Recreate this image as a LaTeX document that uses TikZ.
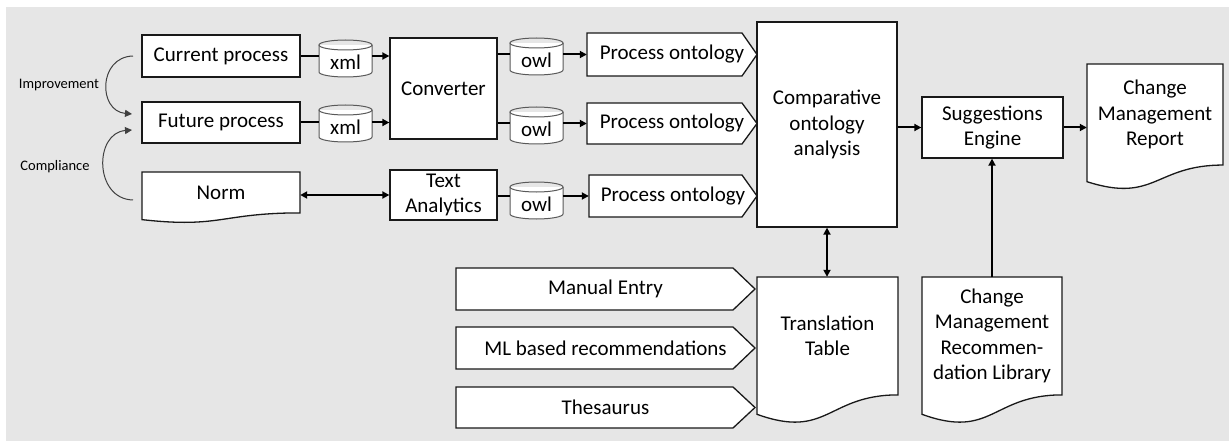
\documentclass[tikz,border=0pt]{standalone}
\usepackage{fontspec}
\setmainfont{Carlito}
\usetikzlibrary{arrows.meta}
\definecolor{bggray}{RGB}{230,230,230}
\tikzset{
 box/.style={draw=black!90, line width=1.3pt, fill=white, align=center, inner sep=0pt, font=\fontsize{21}{25.5}\selectfont},
 lbl/.style={inner sep=0pt, align=center, font=\fontsize{21}{25.5}\selectfont},
 outl/.style={draw=black!90, line width=1.3pt, fill=white},
 cylo/.style={draw=black!65, line width=1pt},
 conn/.style={line width=2pt, draw=black},
 arr/.style={conn, -{Triangle[length=7pt,width=7pt]}},
 darr/.style={conn, {Triangle[length=7pt,width=7pt]}-{Triangle[length=7pt,width=7pt]}},
 thinarr/.style={line width=1pt, draw=black!75, -{Triangle[length=7pt,width=7pt]}},
 small/.style={font=\fontsize{14.5}{17}\selectfont, inner sep=0pt},
}
\newcommand{\docshape}[6]{%
 \draw[outl] (#2,#3) -- ({#2+#4},#3) -- ({#2+#4},{#3+0.802*#5}) .. controls ({#2+0.5*#4},{#3+0.802*#5}) and ({#2+0.5*#4},{#3+1.1075*#5}) .. (#2,{#3+0.934*#5}) -- cycle;
 \node[lbl, minimum width=#4pt, minimum height={0.802*#5pt}] (#1) at ({#2+0.5*#4},{#3+0.401*#5}) {#6};
}
\newcommand{\pentshape}[7]{%
 \draw[outl] (#2,#3) -- (#4,#3) -- (#5,{(#3+#6)/2}) -- (#4,#6) -- (#2,#6) -- cycle;
 \node[lbl, minimum width={(#5-#2)*1pt}, minimum height={(#6-#3)*1pt}] (#1) at ({(#2+#5)/2},{(#3+#6)/2}) {#7};
}
\newcommand{\cylshape}[4]{%
 \fill[white] ({#2-26.5},{#3-13.5}) rectangle ({#2+26.5},{#3+13.5});
 \fill[white] (#2,{#3+13.5}) ellipse [x radius=26.5, y radius=5];
 \draw[cylo] ({#2-26.5},{#3-13.5}) -- ({#2-26.5},{#3+13.5}) arc[start angle=180, end angle=0, x radius=26.5, y radius=5] -- ({#2+26.5},{#3-13.5});
 \draw[cylo] (#2,{#3-13.5}) ellipse [x radius=26.5, y radius=5];
 \node[lbl, minimum width=53pt, minimum height=37pt] (#1) at (#2,{#3+4}) {#4};
}
\begin{document}
\begin{tikzpicture}[x=1pt,y=-1pt]
\useasboundingbox (0,0) rectangle (1229,441);
\fill[bggray] (6,7) rectangle (1229,441);

% boxes
\node[box, minimum width=158pt, minimum height=42pt] (cp) at (221,56) {Current process};
\node[box, minimum width=158pt, minimum height=41pt] (fp) at (221,122.5) {Future process};
\docshape{norm}{142}{172}{158}{51}{Norm}
\node[box, minimum width=107pt, minimum height=101pt] (conv) at (443.5,88.5) {Converter};
\node[box, minimum width=107pt, minimum height=50pt] (ta) at (443.5,195) {Text\\Analytics};

\cylshape{x1}{345.5}{58.5}{xml}
\cylshape{x2}{345.5}{123.5}{xml}
\cylshape{o1}{536.5}{56.5}{owl}
\cylshape{o2}{536.5}{125.5}{owl}
\cylshape{o3}{536.5}{200.5}{owl}

\pentshape{po1}{587}{33}{742}{757}{76}{Process ontology}
\pentshape{po2}{587}{103}{742}{757}{144}{Process ontology}
\pentshape{po3}{589}{175}{742}{757}{217}{Process ontology}

\pentshape{me}{456}{268}{733}{755}{310}{Manual Entry}
\pentshape{ml}{456}{327}{733}{755}{369}{ML based recommendations}
\pentshape{th}{456}{387}{733}{755}{428}{Thesaurus}

\node[box, minimum width=140pt, minimum height=205pt] (comp) at (827,124.5) {Comparative\\ontology\\analysis};
\node[box, minimum width=141pt, minimum height=61pt] (sug) at (992.5,127.5) {Suggestions\\Engine};
\docshape{rep}{1087}{64}{136}{126}{Change\\Management\\Report}
\docshape{tt}{757}{277}{141}{147}{Translation\\Table}
\docshape{lib}{922}{277}{140}{147}{Change\\Management\\Recommen-\\dation Library}

% connectors
\draw[conn] (cp.east) -- (cp.east -| x1.west);
\draw[arr] (cp.east -| x1.east) -- (cp.east -| conv.west);
\draw[conn] (fp.east) -- (fp.east -| x2.west);
\draw[arr] (fp.east -| x2.east) -- (fp.east -| conv.west);
\draw[conn] (po1.west -| conv.east) -- (po1.west -| o1.west);
\draw[arr] (po1.west -| o1.east) -- (po1.west);
\draw[conn] (po2.west -| conv.east) -- (po2.west -| o2.west);
\draw[arr] (po2.west -| o2.east) -- (po2.west);
\draw[conn] (po3.west -| ta.east) -- (po3.west -| o3.west);
\draw[arr] (po3.west -| o3.east) -- (po3.west);
\draw[darr] (ta.west -| norm.east) -- (ta.west);
\draw[arr] (sug.west -| comp.east) -- (sug.west);
\draw[arr] (sug.east) -- (sug.east -| rep.west);
\draw[darr] (comp.south) -- (comp.south |- tt.north);
\draw[arr] (lib.north) -- (lib.north |- sug.south);

% arcs
\coordinate (i1) at (133,56);
\coordinate (i2) at (132,114);
\coordinate (c1) at (133,200);
\coordinate (c2) at (132,130);
\draw[thinarr] (i1) .. controls (98,57) and (98,111) .. (i2);
\draw[thinarr] (c1) .. controls (94,199) and (94,133) .. (c2);
\node[small] (limp) at (59,85) {Improvement};
\node[small] (lcomp) at (55,167) {Compliance};
\end{tikzpicture}
\end{document}
